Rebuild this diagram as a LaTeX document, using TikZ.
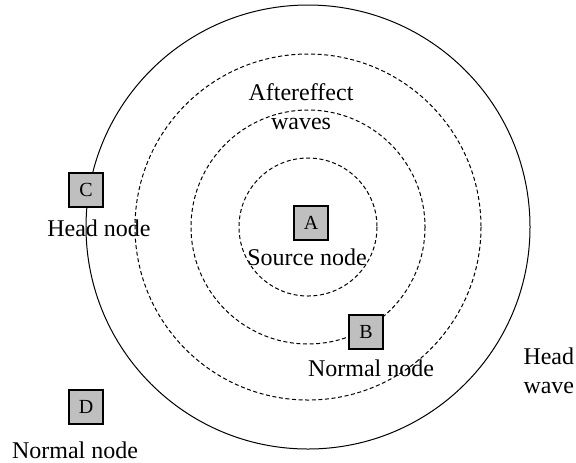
\documentclass[tikz,border=0pt]{standalone}
\usepackage{fontspec}
\setmainfont{Liberation Serif}
\usetikzlibrary{positioning}
\begin{document}
\begin{tikzpicture}[x=0.5pt, y=-0.5pt, line width=0.5pt]
          \tikzstyle{sensor}=[rectangle, draw=black, line width=0.6pt, fill=black!25, minimum size=17pt, inner sep=0pt, font=\fontsize{10}{12}\selectfont]
          \tikzstyle{tag}=[inner sep=0pt, font=\fontsize{12}{14.5}\selectfont]
          \tikzstyle{wave}=[dash pattern=on 2pt off 1.3pt]

          \useasboundingbox (0,0) rectangle (576,462);
          \coordinate (O) at (308,227);

          \draw[wave] (O) circle [radius=69];
          \draw[wave] (O) circle [radius=117];
          \draw[wave] (O) circle [radius=173];
          \draw (O) circle [radius=222];

          \node[sensor] (A) at (311,223) {A};
          \node[sensor] (B) at (366,332) {B};
          \node[sensor] (C) at (86,190) {C};
          \node[sensor] (D) at (86,407) {D};

          \node[tag] (lA) at (307,257) {Source node};
          \node[tag] (lB) at (371,368) {Normal node};
          \node[tag] (lC) at (99,228) {Head node};
          \node[tag] (lD) at (75,450) {Normal node};

          \node[tag, align=center] (waves) at (301,107) {Aftereffect\\waves};
          \node[tag, align=left, anchor=west] (head) at (523,371) {Head\\wave};

        \end{tikzpicture}
\end{document}
